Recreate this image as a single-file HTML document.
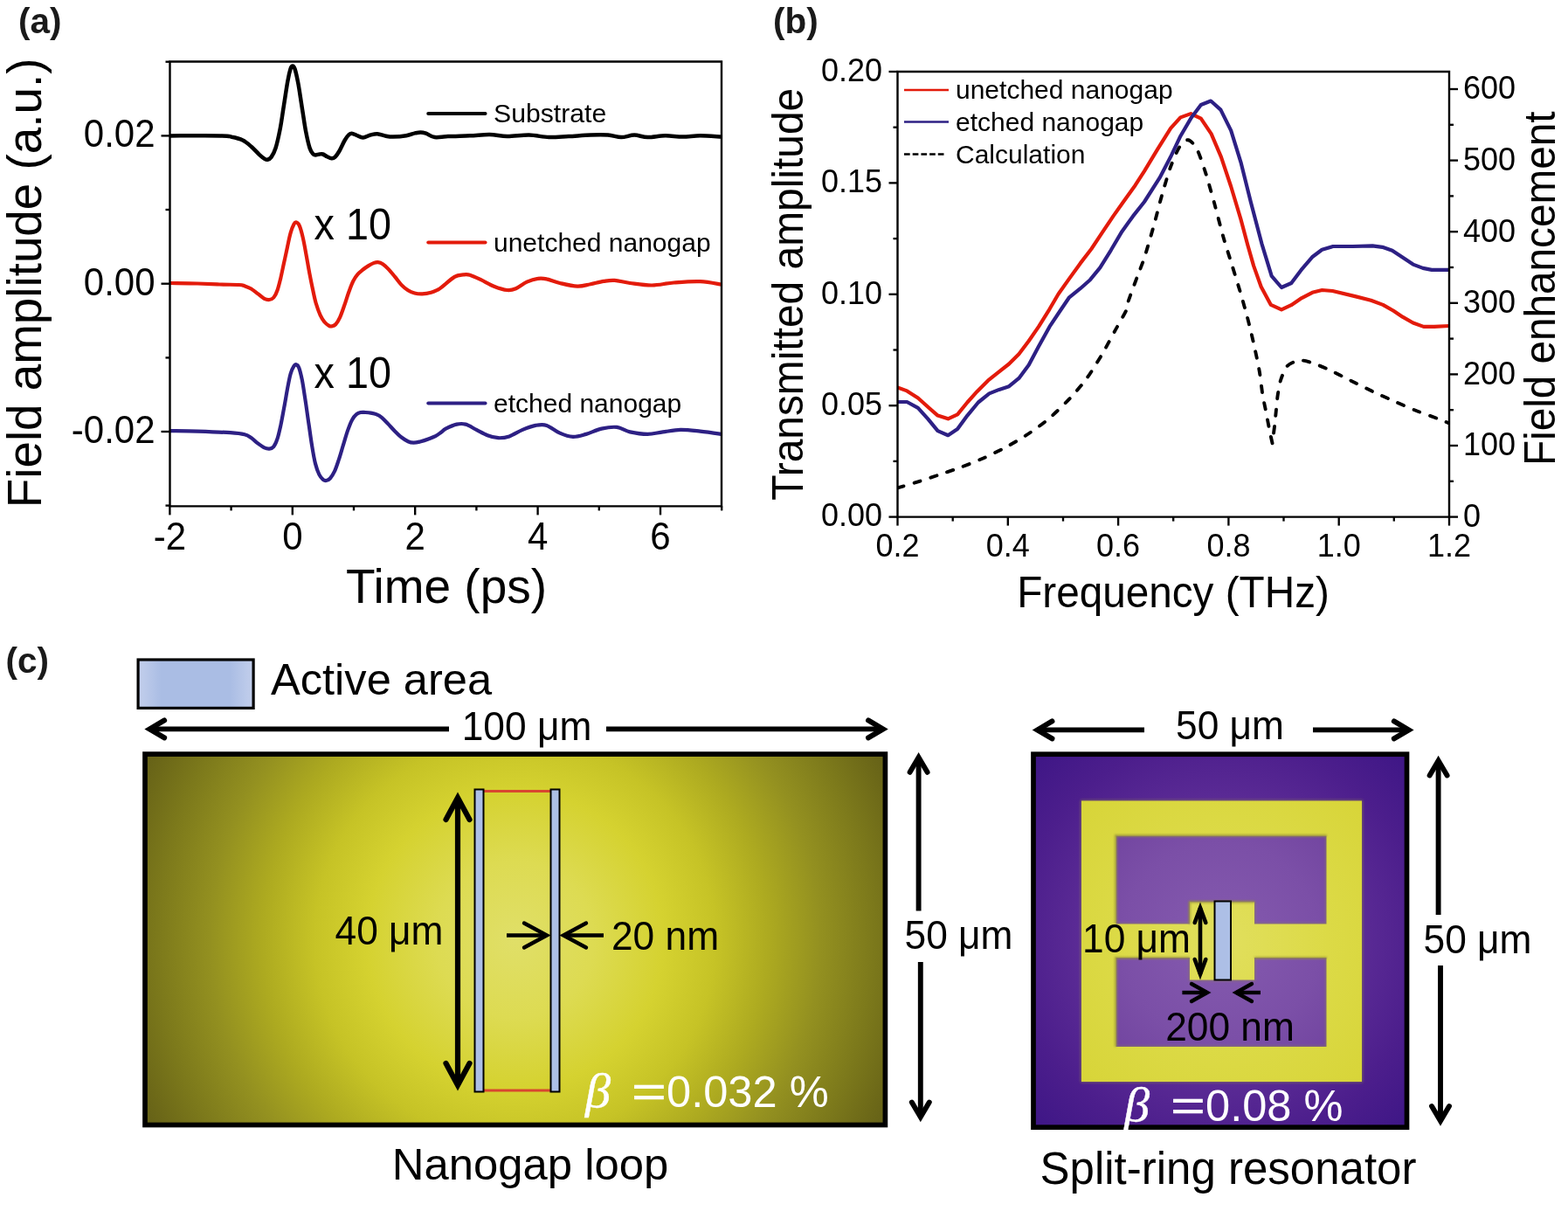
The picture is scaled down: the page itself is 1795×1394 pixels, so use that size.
<!DOCTYPE html>
<html lang="en"><head><meta charset="utf-8"><title>Figure</title>
<style>
html,body{margin:0;padding:0;background:#fff;}
body{width:1795px;height:1394px;overflow:hidden;font-family:"Liberation Sans", "DejaVu Sans", sans-serif;}
svg{display:block;}
</style></head><body>
<svg width="1795" height="1394" viewBox="0 0 1795 1394" font-family='"Liberation Sans", "DejaVu Sans", sans-serif'>
<text transform="translate(21.0 38.0)" font-size="40.5" font-weight="bold" fill="#1a1a1a" >(a)</text>
<g id="plot-a">
<clipPath id="clipA"><rect x="194.5" y="70.5" width="631.5" height="508.9"/></clipPath>
<g clip-path="url(#clipA)" fill="none" stroke-linejoin="round" stroke-linecap="round">
<path d="M194.0 155.4C203.8 155.4 240.9 155.2 252.8 155.4C264.7 155.6 261.1 155.8 265.3 156.7C269.5 157.5 274.1 158.6 277.9 160.5C281.7 162.4 284.8 165.3 287.9 168.0C291.0 170.7 294.2 174.5 296.7 176.8C299.2 179.1 301.4 180.8 303.0 181.8C304.6 182.8 304.9 183.1 306.1 182.8C307.4 182.5 308.9 182.2 310.5 179.9C312.1 177.6 313.9 174.5 315.6 169.2C317.3 163.9 319.0 156.1 320.6 147.9C322.2 139.8 323.5 129.5 325.0 120.3C326.5 111.1 328.1 99.5 329.4 92.6C330.6 85.7 331.6 81.7 332.5 78.8C333.4 75.9 334.2 75.4 335.0 75.4C335.8 75.4 336.4 75.5 337.5 78.8C338.6 82.1 339.9 87.9 341.3 95.2C342.7 102.5 344.2 113.6 345.7 122.8C347.2 132.0 348.6 142.7 350.1 150.4C351.6 158.1 353.1 164.9 354.5 169.2C355.9 173.5 357.2 174.7 358.3 176.1C359.4 177.5 359.6 177.3 360.8 177.4C362.1 177.5 364.3 176.7 365.8 176.5C367.3 176.3 368.1 176.0 369.6 176.5C371.1 177.0 372.9 178.5 374.6 179.3C376.3 180.1 378.1 181.1 379.6 181.2C381.1 181.3 381.9 181.3 383.4 179.9C384.9 178.5 386.5 176.2 388.4 173.0C390.3 169.8 392.8 163.7 394.7 160.5C396.6 157.3 398.2 155.2 399.7 153.9C401.2 152.6 402.0 152.7 403.5 152.9C405.0 153.1 406.5 154.2 408.5 155.0C410.5 155.8 413.0 157.6 415.6 157.5C418.2 157.4 421.7 155.1 424.4 154.4C427.1 153.7 429.1 153.0 432.0 153.2C434.9 153.4 439.0 155.1 442.0 155.7C445.0 156.3 446.1 156.7 450.0 156.6C453.9 156.5 460.9 155.9 465.1 155.2C469.3 154.5 472.4 153.0 475.1 152.4C477.8 151.8 479.3 151.4 481.4 151.4C483.5 151.4 485.0 151.8 487.7 152.7C490.4 153.6 493.5 156.5 497.7 157.1C501.9 157.7 506.1 156.4 512.8 156.1C519.5 155.8 529.9 155.6 537.9 155.3C545.9 155.0 553.4 154.0 560.5 154.1C567.6 154.2 573.1 156.0 580.6 156.1C588.1 156.2 597.8 154.4 605.7 154.6C613.7 154.8 620.8 156.8 628.3 157.1C635.8 157.3 642.9 156.5 650.9 156.1C658.9 155.7 668.5 154.8 676.0 154.6C683.5 154.3 690.2 154.2 696.1 154.6C702.0 155.0 706.2 157.1 711.2 157.1C716.2 157.1 721.2 154.6 726.2 154.6C731.2 154.6 735.4 157.0 741.3 157.1C747.2 157.2 754.7 155.4 761.4 155.3C768.1 155.2 774.8 156.6 781.5 156.6C788.2 156.6 794.2 155.3 801.6 155.3C809.0 155.3 821.9 156.4 826.0 156.6" stroke="#000" stroke-width="4.5"/>
<path d="M194.0 324.0C199.3 324.1 216.5 324.2 226.0 324.5C235.5 324.8 243.2 325.2 251.1 325.5C259.1 325.8 268.9 325.7 273.7 326.0C278.5 326.3 277.7 326.6 280.0 327.3C282.3 328.1 285.0 329.0 287.5 330.5C290.0 332.0 292.6 334.2 295.1 336.1C297.6 338.0 300.4 340.7 302.6 341.8C304.8 342.9 306.5 343.2 308.3 343.0C310.1 342.8 311.7 342.4 313.3 340.5C314.9 338.6 316.4 335.5 317.7 331.7C319.0 327.9 320.1 323.1 321.4 317.9C322.6 312.7 323.9 306.2 325.2 300.3C326.5 294.4 327.8 288.4 329.0 282.7C330.2 277.0 331.4 270.8 332.7 266.4C333.9 262.0 335.4 258.4 336.5 256.4C337.6 254.4 338.3 254.2 339.4 254.5C340.4 254.8 341.6 255.5 342.8 258.3C344.0 261.1 345.4 266.1 346.6 271.4C347.9 276.7 349.1 283.6 350.3 290.3C351.6 297.0 352.8 304.9 354.1 311.6C355.4 318.3 356.6 324.6 357.9 330.5C359.1 336.4 360.2 341.8 361.6 346.8C363.1 351.8 364.9 356.9 366.6 360.6C368.3 364.3 370.0 366.8 371.7 368.8C373.4 370.9 375.3 372.1 376.7 372.9C378.1 373.7 378.6 373.7 379.8 373.4C381.1 373.1 382.6 373.0 384.2 371.3C385.8 369.6 387.5 366.8 389.2 363.1C390.9 359.4 392.6 354.1 394.3 349.3C396.0 344.5 397.6 338.8 399.3 334.2C401.0 329.6 402.6 325.0 404.3 321.7C406.0 318.4 407.4 316.3 409.3 314.1C411.2 311.9 413.5 310.2 415.6 308.5C417.7 306.8 419.8 305.4 421.9 304.1C424.0 302.8 426.4 301.6 428.2 300.9C430.0 300.2 430.9 299.9 432.6 300.1C434.3 300.3 436.2 300.9 438.2 302.2C440.2 303.5 442.2 305.5 444.5 307.9C446.8 310.3 449.5 313.6 452.0 316.6C454.5 319.6 457.1 323.5 459.6 326.1C462.1 328.7 464.6 330.7 467.1 332.3C469.6 333.9 471.9 334.8 474.6 335.5C477.3 336.2 480.2 336.5 483.4 336.4C486.5 336.3 490.6 335.6 493.5 334.8C496.4 334.0 499.1 332.6 501.0 331.7C502.9 330.8 501.8 331.7 505.0 329.2C508.2 326.7 516.1 319.4 520.3 316.9C524.5 314.4 527.5 314.8 530.4 314.4C533.3 314.0 534.5 313.7 537.9 314.7C541.2 315.7 545.9 318.0 550.5 320.2C555.1 322.4 560.5 325.7 565.5 327.7C570.5 329.7 576.4 331.6 580.6 332.0C584.8 332.4 586.8 331.8 590.6 330.2C594.4 328.6 599.0 324.6 603.2 322.7C607.4 320.8 611.9 319.4 615.7 318.9C619.5 318.3 621.6 318.5 625.8 319.4C630.0 320.2 635.0 322.6 640.9 324.0C646.8 325.4 655.1 327.5 661.0 327.7C666.9 327.9 671.0 326.2 676.0 325.2C681.0 324.2 686.5 322.6 691.1 321.9C695.7 321.2 698.6 320.5 703.6 320.9C708.6 321.2 714.1 323.1 721.2 324.0C728.3 324.9 737.9 326.6 746.3 326.5C754.7 326.4 762.2 324.2 771.4 323.5C780.6 322.8 792.5 321.8 801.6 322.2C810.7 322.6 821.9 325.1 826.0 325.7" stroke="#e31b0b" stroke-width="4.2"/>
<path d="M194.0 493.1C199.3 493.2 214.4 493.2 226.0 493.6C237.6 494.0 254.7 494.6 263.7 495.2C272.7 495.8 276.0 496.3 280.0 497.3C284.0 498.3 285.0 499.4 287.5 501.1C290.0 502.8 292.6 505.5 295.1 507.4C297.6 509.3 300.4 511.4 302.6 512.4C304.8 513.4 306.5 513.8 308.3 513.6C310.1 513.4 311.7 513.1 313.3 511.1C314.9 509.1 316.4 505.8 317.7 501.7C319.0 497.6 320.1 492.5 321.4 486.6C322.6 480.8 323.9 473.5 325.2 466.6C326.5 459.7 327.8 451.7 329.0 445.2C330.2 438.7 331.4 432.0 332.7 427.6C333.9 423.2 335.4 420.5 336.5 418.8C337.6 417.1 338.1 417.0 339.0 417.3C339.9 417.6 341.1 417.7 342.2 420.7C343.3 423.7 344.6 428.8 345.9 435.2C347.1 441.6 348.4 450.6 349.7 459.0C351.0 467.4 352.2 476.8 353.5 485.4C354.8 494.0 355.9 503.0 357.2 510.5C358.4 518.0 359.6 525.2 361.0 530.6C362.4 536.0 363.9 540.1 365.4 543.1C366.9 546.1 368.4 547.6 369.8 548.8C371.2 549.9 372.1 550.2 373.5 550.0C374.9 549.8 376.3 549.3 377.9 547.5C379.5 545.7 381.3 543.0 383.0 539.4C384.7 535.8 386.3 530.6 388.0 525.6C389.7 520.6 391.3 514.6 393.0 509.2C394.7 503.8 396.3 497.7 398.0 492.9C399.7 488.1 401.4 483.5 403.1 480.4C404.8 477.3 406.4 475.5 408.1 474.1C409.8 472.7 411.4 472.4 413.1 472.0C414.8 471.6 416.2 471.9 418.1 472.0C420.0 472.1 422.3 472.2 424.4 472.6C426.5 473.0 428.6 473.2 430.7 474.1C432.8 475.0 434.7 475.9 437.0 477.8C439.3 479.7 442.0 482.8 444.5 485.4C447.0 488.0 449.5 491.0 452.0 493.5C454.5 496.0 457.1 498.6 459.6 500.5C462.1 502.4 464.8 504.2 467.1 505.2C469.4 506.2 471.1 506.6 473.4 506.7C475.7 506.8 478.0 506.2 480.9 505.5C483.8 504.8 488.1 503.4 491.0 502.3C493.9 501.2 496.2 500.4 498.5 499.2C500.8 497.9 503.0 496.2 505.0 494.8C507.0 493.4 507.3 492.1 510.3 490.6C513.3 489.1 519.0 486.4 522.8 485.6C526.6 484.8 529.1 484.6 532.9 485.6C536.7 486.7 541.2 489.8 545.4 491.9C549.6 494.0 553.8 496.6 558.0 498.2C562.2 499.8 566.3 501.0 570.5 501.2C574.7 501.4 578.5 500.9 583.1 499.4C587.7 497.8 593.2 494.0 598.2 491.9C603.2 489.8 608.6 487.7 613.2 486.9C617.8 486.1 621.2 485.4 625.8 486.9C630.4 488.4 635.9 493.5 640.9 495.7C645.9 497.9 650.9 499.7 655.9 499.9C660.9 500.1 665.5 498.4 671.0 496.9C676.5 495.3 682.7 491.9 688.6 490.6C694.5 489.3 700.8 488.3 706.2 488.9C711.6 489.5 715.4 493.1 721.2 494.4C727.1 495.7 735.0 496.9 741.3 496.9C747.6 496.9 752.6 495.2 758.9 494.4C765.2 493.6 771.9 492.0 779.0 491.9C786.1 491.8 793.8 492.8 801.6 493.6C809.4 494.4 821.9 496.3 826.0 496.9" stroke="#2d2084" stroke-width="4.2"/>
</g>
<path d="M194.5 70.5H826.0V579.4H194.5Z" fill="none" stroke="#000" stroke-width="2.4"/>
<line x1="194.4" y1="579.4" x2="194.4" y2="589.4" stroke="#000" stroke-width="2.35" />
<text transform="translate(194.4 629.0) scale(1.000 1.040)" font-size="42.0" text-anchor="middle" >-2</text>
<line x1="264.6" y1="579.4" x2="264.6" y2="584.4" stroke="#000" stroke-width="2.35" />
<line x1="334.8" y1="579.4" x2="334.8" y2="589.4" stroke="#000" stroke-width="2.35" />
<text transform="translate(334.8 629.0) scale(1.000 1.040)" font-size="42.0" text-anchor="middle" >0</text>
<line x1="405.0" y1="579.4" x2="405.0" y2="584.4" stroke="#000" stroke-width="2.35" />
<line x1="475.2" y1="579.4" x2="475.2" y2="589.4" stroke="#000" stroke-width="2.35" />
<text transform="translate(475.2 629.0) scale(1.000 1.040)" font-size="42.0" text-anchor="middle" >2</text>
<line x1="545.4" y1="579.4" x2="545.4" y2="584.4" stroke="#000" stroke-width="2.35" />
<line x1="615.6" y1="579.4" x2="615.6" y2="589.4" stroke="#000" stroke-width="2.35" />
<text transform="translate(615.6 629.0) scale(1.000 1.040)" font-size="42.0" text-anchor="middle" >4</text>
<line x1="685.8" y1="579.4" x2="685.8" y2="584.4" stroke="#000" stroke-width="2.35" />
<line x1="756.0" y1="579.4" x2="756.0" y2="589.4" stroke="#000" stroke-width="2.35" />
<text transform="translate(756.0 629.0) scale(1.000 1.040)" font-size="42.0" text-anchor="middle" >6</text>
<line x1="826.2" y1="579.4" x2="826.2" y2="584.4" stroke="#000" stroke-width="2.35" />
<line x1="189.5" y1="578.6" x2="194.5" y2="578.6" stroke="#000" stroke-width="2.35" />
<line x1="184.5" y1="494.0" x2="194.5" y2="494.0" stroke="#000" stroke-width="2.35" />
<line x1="189.5" y1="409.4" x2="194.5" y2="409.4" stroke="#000" stroke-width="2.35" />
<line x1="184.5" y1="324.7" x2="194.5" y2="324.7" stroke="#000" stroke-width="2.35" />
<line x1="189.5" y1="240.0" x2="194.5" y2="240.0" stroke="#000" stroke-width="2.35" />
<line x1="184.5" y1="155.4" x2="194.5" y2="155.4" stroke="#000" stroke-width="2.35" />
<line x1="189.5" y1="70.7" x2="194.5" y2="70.7" stroke="#000" stroke-width="2.35" />
<text transform="translate(177.5 168.4) scale(1.000 1.040)" font-size="42.0" text-anchor="end" >0.02</text>
<text transform="translate(177.5 337.7) scale(1.000 1.040)" font-size="42.0" text-anchor="end" >0.00</text>
<text transform="translate(177.5 507.0) scale(1.000 1.040)" font-size="42.0" text-anchor="end" >-0.02</text>
<text transform="translate(511.0 690.3) scale(1.000 1.020)" font-size="55.0" text-anchor="middle" >Time (ps)</text>
<text transform="translate(47.2 323.9) rotate(-90) scale(1.000 1.030)" font-size="54.8" text-anchor="middle" >Field amplitude (a.u.)</text>
<line x1="490.3" y1="130.0" x2="555.5" y2="130.0" stroke="#000" stroke-width="4.10" stroke-linecap="round"/>
<text transform="translate(565.0 140.0)" font-size="30.2" >Substrate</text>
<line x1="490.3" y1="277.5" x2="555.5" y2="277.5" stroke="#e31b0b" stroke-width="4.10" stroke-linecap="round"/>
<text transform="translate(565.0 287.5)" font-size="30.0" >unetched nanogap</text>
<line x1="490.3" y1="461.5" x2="555.5" y2="461.5" stroke="#2d2084" stroke-width="4.10" stroke-linecap="round"/>
<text transform="translate(565.0 471.5)" font-size="30.0" >etched nanogap</text>
<text transform="translate(359.5 274.0) scale(0.975 1.040)" font-size="48.0" >x 10</text>
<text transform="translate(359.5 444.0) scale(0.975 1.040)" font-size="48.0" >x 10</text>
</g>
<text transform="translate(885.0 38.0)" font-size="40.5" font-weight="bold" fill="#1a1a1a" >(b)</text>
<g id="plot-b">
<clipPath id="clipB"><rect x="1027.5" y="82.0" width="631.5" height="509.6"/></clipPath>
<g clip-path="url(#clipB)" fill="none" stroke-linejoin="round" stroke-linecap="butt">
<path d="M1027.5 558.4C1030.3 557.6 1042.3 554.1 1048.4 552.2C1054.5 550.3 1066.8 546.2 1073.5 543.9C1080.2 541.6 1091.9 537.8 1098.6 535.3C1105.3 532.8 1117.0 528.2 1123.7 525.3C1130.4 522.4 1142.1 516.7 1148.8 513.2C1155.5 509.7 1167.2 503.0 1173.9 498.7C1180.6 494.4 1192.3 486.2 1199.0 480.6C1205.7 475.0 1218.1 463.1 1224.1 456.7C1230.1 450.3 1239.2 439.8 1244.2 432.9C1249.2 426.0 1257.4 412.6 1261.8 405.2C1266.2 397.8 1273.2 384.3 1276.9 377.6C1280.6 370.9 1287.4 359.5 1289.4 355.0C1291.4 350.5 1290.2 349.1 1291.9 344.0C1293.6 338.9 1299.6 322.9 1302.0 316.4C1304.4 309.9 1307.6 302.5 1310.0 295.1C1312.4 287.7 1317.3 270.7 1320.0 261.2C1322.7 251.7 1327.4 232.9 1330.1 223.5C1332.8 214.1 1337.4 198.3 1340.1 190.9C1342.8 183.5 1347.5 172.4 1350.2 168.3C1352.9 164.2 1357.5 159.9 1360.2 160.2C1362.9 160.5 1367.6 165.7 1370.3 170.8C1373.0 175.9 1377.6 190.0 1380.3 198.4C1383.0 206.8 1387.7 223.9 1390.4 233.6C1393.1 243.3 1397.7 261.8 1400.4 271.2C1403.1 280.6 1407.8 295.2 1410.5 303.9C1413.2 312.6 1418.7 330.4 1420.5 336.5C1422.3 342.6 1423.5 347.2 1424.3 350.0C1425.1 352.8 1425.5 353.7 1426.5 357.5C1427.5 361.3 1430.3 372.5 1431.7 378.2C1433.1 383.9 1435.4 394.1 1436.8 400.5C1438.2 406.9 1440.9 419.5 1442.0 426.4C1443.1 433.3 1444.5 446.5 1445.4 452.2C1446.3 457.9 1447.9 464.1 1448.9 469.4C1449.9 474.7 1452.2 486.7 1453.2 491.8C1454.2 496.9 1456.1 505.4 1456.6 507.5C1456.9 504.7 1458.6 491.7 1459.2 486.6C1459.8 481.5 1460.4 474.0 1460.9 469.4C1461.4 464.8 1462.0 456.8 1462.7 452.2C1463.4 447.6 1464.7 439.4 1466.1 435.0C1467.5 430.6 1470.7 422.4 1473.0 419.5C1475.3 416.6 1480.8 414.4 1483.3 413.5C1485.8 412.6 1489.1 412.3 1491.9 412.6C1494.7 412.9 1500.1 414.6 1504.0 416.0C1507.9 417.4 1515.2 420.2 1520.8 422.8C1526.4 425.4 1539.2 432.1 1545.9 435.4C1552.6 438.7 1564.3 444.7 1571.0 447.9C1577.7 451.1 1589.4 456.3 1596.1 459.2C1602.8 462.1 1614.5 467.3 1621.2 470.0C1627.9 472.7 1641.4 477.4 1646.4 479.3C1651.4 481.2 1657.3 483.7 1659.0 484.4" stroke="#000" stroke-width="3.9" stroke-dasharray="7.4 12.4" stroke-linecap="round" stroke-linejoin="miter"/>
<path d="M1027.5 443.4L1038.3 447.4L1050.9 455.5L1063.4 466.8L1073.5 475.6L1085.3 479.3L1096.1 474.3L1107.4 460.5L1118.7 447.9L1131.2 435.4L1143.8 425.3L1155.1 416.5L1166.4 405.2L1177.7 390.2L1189.0 373.9L1201.5 353.8L1211.6 336.5L1224.1 318.9L1236.7 301.4L1249.3 285.0L1261.8 266.2L1274.4 247.4L1286.9 229.8L1299.5 212.2L1310.0 195.9L1325.1 170.8L1340.1 146.9L1351.4 134.4L1363.2 130.1L1374.8 135.6L1386.6 153.2L1397.9 179.6L1409.2 213.5L1420.5 251.1L1428.2 280.0L1435.1 304.1L1443.7 328.2L1454.9 348.9L1467.0 354.4L1478.2 349.2L1490.2 341.1L1502.3 334.8L1513.5 332.0L1525.5 333.0L1552.2 339.4L1569.4 343.7L1583.2 348.9L1595.3 355.8L1605.6 362.7L1617.6 369.5L1629.7 373.9L1641.8 373.9L1659.0 373.0" stroke="#e31b0b" stroke-width="4.2"/>
<path d="M1027.5 460.0L1038.3 460.0L1050.9 466.8L1062.2 479.3L1073.5 493.1L1085.3 498.2L1096.1 491.1L1107.4 475.6L1119.9 460.5L1132.5 450.4L1143.8 445.9L1155.1 442.2L1166.4 432.9L1177.7 417.8L1189.0 396.5L1201.5 373.9L1214.1 355.0L1224.1 340.3L1236.7 330.2L1248.0 320.2L1259.3 306.4L1271.8 286.3L1284.4 264.9L1297.0 247.4L1310.0 231.0L1327.6 203.4L1340.1 179.6L1351.4 155.7L1363.2 135.6L1374.8 120.0L1386.1 115.5L1397.4 125.6L1409.2 149.4L1420.5 185.8L1431.8 231.0L1444.4 278.8L1455.7 315.9L1467.0 329.0L1478.3 324.0L1489.6 308.9L1502.1 294.3L1513.4 285.8L1526.0 282.0L1548.6 282.0L1571.2 281.3L1582.5 282.8L1593.8 286.8L1606.3 295.1L1617.6 302.6L1628.9 306.9L1639.0 308.9L1659.0 308.9" stroke="#2d2084" stroke-width="4.2"/>
</g>
<path d="M1027.5 82.0H1659.0V591.6H1027.5Z" fill="none" stroke="#000" stroke-width="2.4"/>
<line x1="1027.5" y1="591.6" x2="1027.5" y2="601.6" stroke="#000" stroke-width="2.35" />
<text transform="translate(1027.5 636.6) scale(1.000 1.040)" font-size="36.0" text-anchor="middle" >0.2</text>
<line x1="1090.7" y1="591.6" x2="1090.7" y2="596.6" stroke="#000" stroke-width="2.35" />
<line x1="1153.8" y1="591.6" x2="1153.8" y2="601.6" stroke="#000" stroke-width="2.35" />
<text transform="translate(1153.8 636.6) scale(1.000 1.040)" font-size="36.0" text-anchor="middle" >0.4</text>
<line x1="1217.0" y1="591.6" x2="1217.0" y2="596.6" stroke="#000" stroke-width="2.35" />
<line x1="1280.1" y1="591.6" x2="1280.1" y2="601.6" stroke="#000" stroke-width="2.35" />
<text transform="translate(1280.1 636.6) scale(1.000 1.040)" font-size="36.0" text-anchor="middle" >0.6</text>
<line x1="1343.2" y1="591.6" x2="1343.2" y2="596.6" stroke="#000" stroke-width="2.35" />
<line x1="1406.4" y1="591.6" x2="1406.4" y2="601.6" stroke="#000" stroke-width="2.35" />
<text transform="translate(1406.4 636.6) scale(1.000 1.040)" font-size="36.0" text-anchor="middle" >0.8</text>
<line x1="1469.5" y1="591.6" x2="1469.5" y2="596.6" stroke="#000" stroke-width="2.35" />
<line x1="1532.7" y1="591.6" x2="1532.7" y2="601.6" stroke="#000" stroke-width="2.35" />
<text transform="translate(1532.7 636.6) scale(1.000 1.040)" font-size="36.0" text-anchor="middle" >1.0</text>
<line x1="1595.8" y1="591.6" x2="1595.8" y2="596.6" stroke="#000" stroke-width="2.35" />
<line x1="1659.0" y1="591.6" x2="1659.0" y2="601.6" stroke="#000" stroke-width="2.35" />
<text transform="translate(1659.0 636.6) scale(1.000 1.040)" font-size="36.0" text-anchor="middle" >1.2</text>
<line x1="1017.5" y1="591.6" x2="1027.5" y2="591.6" stroke="#000" stroke-width="2.35" />
<text transform="translate(1010.0 602.4) scale(1.000 1.040)" font-size="36.0" text-anchor="end" >0.00</text>
<line x1="1022.5" y1="527.9" x2="1027.5" y2="527.9" stroke="#000" stroke-width="2.35" />
<line x1="1017.5" y1="464.2" x2="1027.5" y2="464.2" stroke="#000" stroke-width="2.35" />
<text transform="translate(1010.0 475.0) scale(1.000 1.040)" font-size="36.0" text-anchor="end" >0.05</text>
<line x1="1022.5" y1="400.5" x2="1027.5" y2="400.5" stroke="#000" stroke-width="2.35" />
<line x1="1017.5" y1="336.8" x2="1027.5" y2="336.8" stroke="#000" stroke-width="2.35" />
<text transform="translate(1010.0 347.6) scale(1.000 1.040)" font-size="36.0" text-anchor="end" >0.10</text>
<line x1="1022.5" y1="273.1" x2="1027.5" y2="273.1" stroke="#000" stroke-width="2.35" />
<line x1="1017.5" y1="209.4" x2="1027.5" y2="209.4" stroke="#000" stroke-width="2.35" />
<text transform="translate(1010.0 220.2) scale(1.000 1.040)" font-size="36.0" text-anchor="end" >0.15</text>
<line x1="1022.5" y1="145.7" x2="1027.5" y2="145.7" stroke="#000" stroke-width="2.35" />
<line x1="1017.5" y1="82.0" x2="1027.5" y2="82.0" stroke="#000" stroke-width="2.35" />
<text transform="translate(1010.0 92.8) scale(1.000 1.040)" font-size="36.0" text-anchor="end" >0.20</text>
<line x1="1659.0" y1="591.6" x2="1669.0" y2="591.6" stroke="#000" stroke-width="2.35" />
<text transform="translate(1675.0 602.9) scale(1.000 1.040)" font-size="36.0" >0</text>
<line x1="1659.0" y1="550.8" x2="1664.0" y2="550.8" stroke="#000" stroke-width="2.35" />
<line x1="1659.0" y1="510.0" x2="1669.0" y2="510.0" stroke="#000" stroke-width="2.35" />
<text transform="translate(1675.0 521.3) scale(1.000 1.040)" font-size="36.0" >100</text>
<line x1="1659.0" y1="469.2" x2="1664.0" y2="469.2" stroke="#000" stroke-width="2.35" />
<line x1="1659.0" y1="428.4" x2="1669.0" y2="428.4" stroke="#000" stroke-width="2.35" />
<text transform="translate(1675.0 439.7) scale(1.000 1.040)" font-size="36.0" >200</text>
<line x1="1659.0" y1="387.6" x2="1664.0" y2="387.6" stroke="#000" stroke-width="2.35" />
<line x1="1659.0" y1="346.8" x2="1669.0" y2="346.8" stroke="#000" stroke-width="2.35" />
<text transform="translate(1675.0 358.1) scale(1.000 1.040)" font-size="36.0" >300</text>
<line x1="1659.0" y1="306.0" x2="1664.0" y2="306.0" stroke="#000" stroke-width="2.35" />
<line x1="1659.0" y1="265.2" x2="1669.0" y2="265.2" stroke="#000" stroke-width="2.35" />
<text transform="translate(1675.0 276.5) scale(1.000 1.040)" font-size="36.0" >400</text>
<line x1="1659.0" y1="224.4" x2="1664.0" y2="224.4" stroke="#000" stroke-width="2.35" />
<line x1="1659.0" y1="183.6" x2="1669.0" y2="183.6" stroke="#000" stroke-width="2.35" />
<text transform="translate(1675.0 194.9) scale(1.000 1.040)" font-size="36.0" >500</text>
<line x1="1659.0" y1="142.8" x2="1664.0" y2="142.8" stroke="#000" stroke-width="2.35" />
<line x1="1659.0" y1="102.0" x2="1669.0" y2="102.0" stroke="#000" stroke-width="2.35" />
<text transform="translate(1675.0 113.3) scale(1.000 1.040)" font-size="36.0" >600</text>
<text transform="translate(1343.0 694.8) scale(1.000 1.030)" font-size="47.7" text-anchor="middle" >Frequency (THz)</text>
<text transform="translate(918.8 336.8) rotate(-90) scale(1.000 1.030)" font-size="47.9" text-anchor="middle" >Transmitted amplitude</text>
<text transform="translate(1780.2 330.3) rotate(-90) scale(1.000 1.030)" font-size="47.7" text-anchor="middle" >Field enhancement</text>
<line x1="1035.0" y1="103.0" x2="1086.0" y2="103.0" stroke="#e31b0b" stroke-width="2.60" />
<text transform="translate(1094.0 113.0)" font-size="30.0" >unetched nanogap</text>
<line x1="1035.0" y1="139.5" x2="1086.0" y2="139.5" stroke="#2d2084" stroke-width="2.60" />
<text transform="translate(1094.0 149.5)" font-size="30.0" >etched nanogap</text>
<line x1="1035.0" y1="176.5" x2="1081.0" y2="176.5" stroke="#000" stroke-width="2.40" stroke-dasharray="6.7 3"/>
<text transform="translate(1094.0 186.5)" font-size="30.0" >Calculation</text>
</g>
<text transform="translate(6.5 770.0)" font-size="40.5" font-weight="bold" fill="#1a1a1a" >(c)</text>
<defs>
<radialGradient id="gold" gradientUnits="userSpaceOnUse" cx="589.7" cy="1075.3" r="490.0"><stop offset="0.000" stop-color="#e0df68"/><stop offset="0.184" stop-color="#dddb52"/><stop offset="0.347" stop-color="#d5d230"/><stop offset="0.469" stop-color="#c6c326"/><stop offset="0.592" stop-color="#adaa20"/><stop offset="0.714" stop-color="#939020"/><stop offset="0.837" stop-color="#7c791b"/><stop offset="0.918" stop-color="#6d6918"/><stop offset="1.000" stop-color="#5e5a17"/></radialGradient>
<radialGradient id="purp" gradientUnits="userSpaceOnUse" cx="1397" cy="1077" r="310"><stop offset="0" stop-color="#6a3a9e"/><stop offset="0.5" stop-color="#5c2c96"/><stop offset="0.75" stop-color="#4c1e8c"/><stop offset="1" stop-color="#3c1585"/></radialGradient>
<radialGradient id="purpin" gradientUnits="userSpaceOnUse" cx="1397" cy="1077" r="190"><stop offset="0" stop-color="#855baf"/><stop offset="0.6" stop-color="#7b4fa7"/><stop offset="1" stop-color="#6f429e"/></radialGradient>
<radialGradient id="ringg" gradientUnits="userSpaceOnUse" cx="1400" cy="1077" r="240"><stop offset="0" stop-color="#e1df5e"/><stop offset="0.5" stop-color="#dcda46"/><stop offset="1" stop-color="#d7d437"/></radialGradient>
<linearGradient id="act" x1="0" x2="1" y1="0" y2="0"><stop offset="0" stop-color="#c3cfec"/><stop offset="0.2" stop-color="#aabde4"/><stop offset="0.8" stop-color="#aabde4"/><stop offset="1" stop-color="#c3cfec"/></linearGradient>
</defs>
<rect x="158.1" y="755" width="132" height="55.4" fill="url(#act)" stroke="#000" stroke-width="3.2"/>
<text transform="translate(310.0 795.0)" font-size="50.6" >Active area</text>
<rect x="166.0" y="863.1" width="847.4" height="424.4" fill="url(#gold)" stroke="#000" stroke-width="5.7"/>
<rect x="549" y="905.5" width="86" height="342.5" fill="none" stroke="#d9462f" stroke-width="3"/>
<rect x="543.5" y="903.5" width="10" height="346" fill="#adbfe6" stroke="#000" stroke-width="2"/>
<rect x="630.5" y="903.5" width="10" height="346" fill="#adbfe6" stroke="#000" stroke-width="2"/>
<line x1="514.0" y1="834.4" x2="171.2" y2="834.4" stroke="#000" stroke-width="5.9" stroke-linecap="butt"/>
<path d="M188.2 824.4L171.2 834.4L188.2 844.4" fill="none" stroke="#000" stroke-width="5.9" stroke-linecap="round" stroke-linejoin="miter" stroke-miterlimit="10"/>
<line x1="694.0" y1="834.4" x2="1011.0" y2="834.4" stroke="#000" stroke-width="5.9" stroke-linecap="butt"/>
<path d="M994.0 844.4L1011.0 834.4L994.0 824.4" fill="none" stroke="#000" stroke-width="5.9" stroke-linecap="round" stroke-linejoin="miter" stroke-miterlimit="10"/>
<text transform="translate(603.0 846.5) scale(1.000 1.040)" font-size="44.3" text-anchor="middle" >100 μm</text>
<line x1="1051.6" y1="1042.5" x2="1051.6" y2="866.8" stroke="#000" stroke-width="5.9" stroke-linecap="butt"/>
<path d="M1061.6 883.8L1051.6 866.8L1041.6 883.8" fill="none" stroke="#000" stroke-width="5.9" stroke-linecap="round" stroke-linejoin="miter" stroke-miterlimit="10"/>
<line x1="1053.8" y1="1101.0" x2="1053.8" y2="1278.5" stroke="#000" stroke-width="5.9" stroke-linecap="butt"/>
<path d="M1043.8 1261.5L1053.8 1278.5L1063.8 1261.5" fill="none" stroke="#000" stroke-width="5.9" stroke-linecap="round" stroke-linejoin="miter" stroke-miterlimit="10"/>
<text transform="translate(1097.5 1086.0) scale(1.000 1.040)" font-size="44.3" text-anchor="middle" >50 μm</text>
<line x1="524.0" y1="1075.0" x2="524.0" y2="913.0" stroke="#000" stroke-width="6.2" stroke-linecap="butt"/>
<path d="M537.5 938.0L524.0 913.0L510.5 938.0" fill="none" stroke="#000" stroke-width="6.2" stroke-linecap="round" stroke-linejoin="miter" stroke-miterlimit="10"/>
<line x1="524.0" y1="1075.0" x2="524.0" y2="1242.0" stroke="#000" stroke-width="6.2" stroke-linecap="butt"/>
<path d="M510.5 1217.0L524.0 1242.0L537.5 1217.0" fill="none" stroke="#000" stroke-width="6.2" stroke-linecap="round" stroke-linejoin="miter" stroke-miterlimit="10"/>
<text transform="translate(445.5 1081.0) scale(1.000 1.040)" font-size="44.3" text-anchor="middle" >40 μm</text>
<line x1="580.0" y1="1070.5" x2="626.0" y2="1070.5" stroke="#000" stroke-width="4.4" stroke-linecap="butt"/>
<path d="M600.0 1084.5L626.0 1070.5L600.0 1056.5" fill="none" stroke="#000" stroke-width="4.4" stroke-linecap="round" stroke-linejoin="miter" stroke-miterlimit="10"/>
<line x1="691.0" y1="1070.5" x2="645.0" y2="1070.5" stroke="#000" stroke-width="4.4" stroke-linecap="butt"/>
<path d="M671.0 1056.5L645.0 1070.5L671.0 1084.5" fill="none" stroke="#000" stroke-width="4.4" stroke-linecap="round" stroke-linejoin="miter" stroke-miterlimit="10"/>
<text transform="translate(761.5 1087.0) scale(1.000 1.040)" font-size="44.3" text-anchor="middle" >20 nm</text>
<text transform="translate(670.0 1266.5) scale(1.08 1.03)" font-family="'Liberation Serif', 'DejaVu Serif', serif" font-style="italic" font-size="54" fill="#fff" stroke="#fff" stroke-width="0.4">β</text>
<text transform="translate(723.2 1265.5) scale(1.35 1)" font-size="50" fill="#fff" stroke="#fff" stroke-width="0.6" font-family="'Liberation Sans', sans-serif">=</text>
<text x="763.0" y="1266.5" font-size="50.6" fill="#fff">0.032 %</text>
<text transform="translate(607.0 1350.0)" font-size="50.8" text-anchor="middle" >Nanogap loop</text>
<rect x="1183" y="863.2" width="427.5" height="427" fill="url(#purp)" stroke="#000" stroke-width="5.7"/>
<rect x="1272" y="952" width="252" height="250" fill="url(#purpin)"/>
<filter id="blur" x="-5%%" y="-5%%" width="110%%" height="110%%"><feGaussianBlur stdDeviation="1.4"/></filter>
<filter id="blur1" filterUnits="userSpaceOnUse" x="1230" y="910" width="340" height="340"><feGaussianBlur stdDeviation="0.8"/></filter>
<path fill-rule="evenodd" fill="#8f8a45" stroke="#8f8a45" stroke-width="2" opacity="0.55" filter="url(#blur)" d="M1238 916.5H1559V1238H1238Z M1277.5 956.5V1057.5H1362V1032.5H1436V1057.5H1518.5V956.5Z M1277.5 1096V1198H1518.5V1096H1436V1121.5H1362V1096Z"/>
<path fill-rule="evenodd" fill="url(#ringg)" d="M1238 916.5H1559V1238H1238Z M1277.5 956.5V1057.5H1362V1032.5H1436V1057.5H1518.5V956.5Z M1277.5 1096V1198H1518.5V1096H1436V1121.5H1362V1096Z"/>
<path fill="none" stroke="#9a9438" stroke-width="2.2" opacity="0.8" filter="url(#blur1)" d="M1277 1057V956H1519 M1277 1198V1096H1362 M1436 1096H1519 M1362 1057.5V1032.5H1436"/>
<rect x="1390.5" y="1031.5" width="18.5" height="90" fill="#adbfe6" stroke="#000" stroke-width="2"/>
<line x1="1310.0" y1="835.4" x2="1187.5" y2="835.4" stroke="#000" stroke-width="5.9" stroke-linecap="butt"/>
<path d="M1204.5 825.4L1187.5 835.4L1204.5 845.4" fill="none" stroke="#000" stroke-width="5.9" stroke-linecap="round" stroke-linejoin="miter" stroke-miterlimit="10"/>
<line x1="1503.0" y1="835.4" x2="1612.8" y2="835.4" stroke="#000" stroke-width="5.9" stroke-linecap="butt"/>
<path d="M1595.8 845.4L1612.8 835.4L1595.8 825.4" fill="none" stroke="#000" stroke-width="5.9" stroke-linecap="round" stroke-linejoin="miter" stroke-miterlimit="10"/>
<text transform="translate(1408.0 846.0) scale(1.000 1.040)" font-size="44.3" text-anchor="middle" >50 μm</text>
<line x1="1646.6" y1="1047.0" x2="1646.6" y2="870.5" stroke="#000" stroke-width="5.9" stroke-linecap="butt"/>
<path d="M1656.6 887.5L1646.6 870.5L1636.6 887.5" fill="none" stroke="#000" stroke-width="5.9" stroke-linecap="round" stroke-linejoin="miter" stroke-miterlimit="10"/>
<line x1="1649.0" y1="1105.0" x2="1649.0" y2="1283.0" stroke="#000" stroke-width="5.9" stroke-linecap="butt"/>
<path d="M1639.0 1266.0L1649.0 1283.0L1659.0 1266.0" fill="none" stroke="#000" stroke-width="5.9" stroke-linecap="round" stroke-linejoin="miter" stroke-miterlimit="10"/>
<text transform="translate(1691.5 1091.0) scale(1.000 1.040)" font-size="44.3" text-anchor="middle" >50 μm</text>
<line x1="1374.0" y1="1076.0" x2="1374.0" y2="1039.0" stroke="#000" stroke-width="4.6" stroke-linecap="butt"/>
<path d="M1380.3 1056.0L1374.0 1039.0L1367.7 1056.0" fill="none" stroke="#000" stroke-width="4.6" stroke-linecap="round" stroke-linejoin="miter" stroke-miterlimit="10"/>
<line x1="1374.0" y1="1076.0" x2="1374.0" y2="1115.0" stroke="#000" stroke-width="4.6" stroke-linecap="butt"/>
<path d="M1367.7 1098.0L1374.0 1115.0L1380.3 1098.0" fill="none" stroke="#000" stroke-width="4.6" stroke-linecap="round" stroke-linejoin="miter" stroke-miterlimit="10"/>
<text transform="translate(1301.0 1090.0) scale(1.000 1.040)" font-size="44.3" text-anchor="middle" >10 μm</text>
<line x1="1353.4" y1="1136.0" x2="1382.0" y2="1136.0" stroke="#000" stroke-width="4.4" stroke-linecap="butt"/>
<path d="M1364.0 1146.0L1382.0 1136.0L1364.0 1126.0" fill="none" stroke="#000" stroke-width="4.4" stroke-linecap="round" stroke-linejoin="miter" stroke-miterlimit="10"/>
<line x1="1443.0" y1="1136.0" x2="1415.0" y2="1136.0" stroke="#000" stroke-width="4.4" stroke-linecap="butt"/>
<path d="M1433.0 1126.0L1415.0 1136.0L1433.0 1146.0" fill="none" stroke="#000" stroke-width="4.4" stroke-linecap="round" stroke-linejoin="miter" stroke-miterlimit="10"/>
<text transform="translate(1408.0 1190.5) scale(1.000 1.040)" font-size="44.3" text-anchor="middle" >200 nm</text>
<text transform="translate(1287.0 1283.0) scale(1.08 1.03)" font-family="'Liberation Serif', 'DejaVu Serif', serif" font-style="italic" font-size="54" fill="#fff" stroke="#fff" stroke-width="0.4">β</text>
<text transform="translate(1340.2 1282.0) scale(1.35 1)" font-size="50" fill="#fff" stroke="#fff" stroke-width="0.6" font-family="'Liberation Sans', sans-serif">=</text>
<text x="1380.0" y="1283.0" font-size="50.6" fill="#fff">0.08 %</text>
<text transform="translate(1406.0 1355.0)" font-size="51.0" text-anchor="middle" >Split-ring resonator</text>
</svg>
</body></html>
